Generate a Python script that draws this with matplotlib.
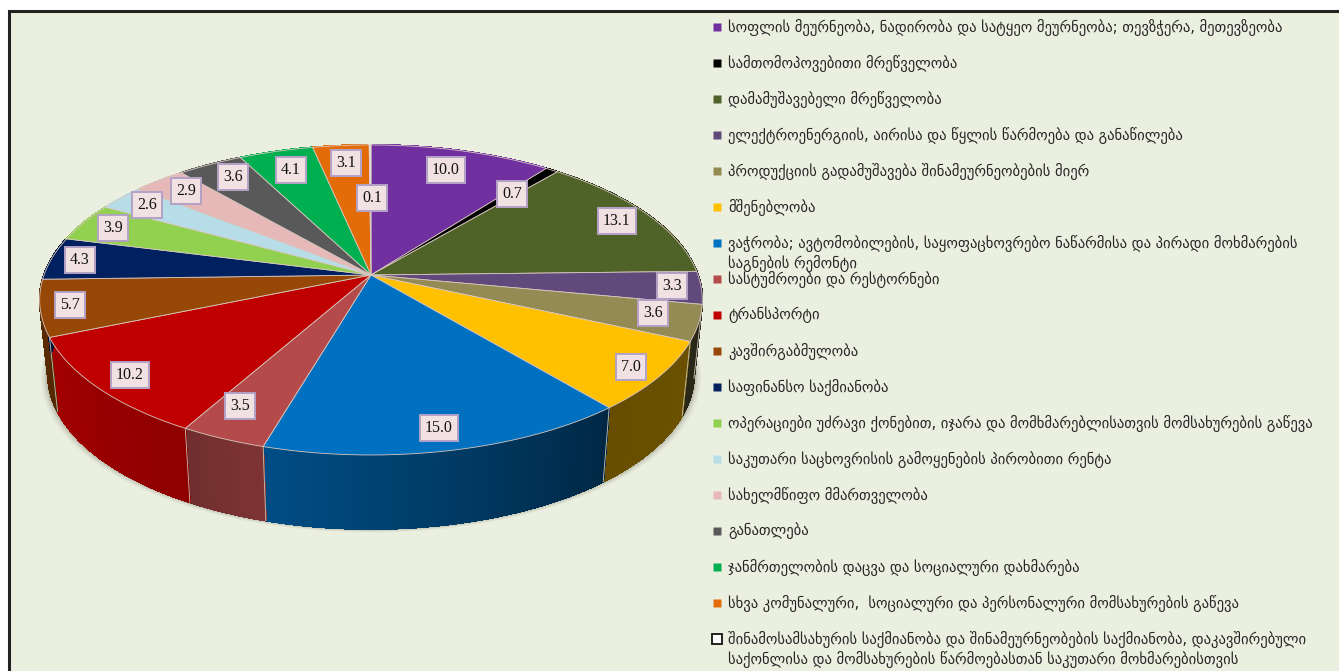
import numpy as np
import matplotlib
matplotlib.use("Agg")
import matplotlib.pyplot as plt
from matplotlib.patches import Polygon, Rectangle

categories = [
    "სოფლის მეურნეობა, ნადირობა და სატყეო მეურნეობა; თევზჭერა, მეთევზეობა",
    "სამთომოპოვებითი მრეწველობა",
    "დამამუშავებელი მრეწველობა",
    "ელექტროენერგიის, აირისა და წყლის წარმოება და განაწილება",
    "პროდუქციის გადამუშავება შინამეურნეობების მიერ",
    "მშენებლობა",
    "ვაჭრობა; ავტომობილების, საყოფაცხოვრებო ნაწარმისა და პირადი მოხმარების\nსაგნების რემონტი",
    "სასტუმროები და რესტორნები",
    "ტრანსპორტი",
    "კავშირგაბმულობა",
    "საფინანსო საქმიანობა",
    "ოპერაციები უძრავი ქონებით, იჯარა და მომხმარებლისათვის მომსახურების გაწევა",
    "საკუთარი საცხოვრისის გამოყენების პირობითი რენტა",
    "სახელმწიფო მმართველობა",
    "განათლება",
    "ჯანმრთელობის დაცვა და სოციალური დახმარება",
    "სხვა კომუნალური,  სოციალური და პერსონალური მომსახურების გაწევა",
    "შინამოსამსახურის საქმიანობა და შინამეურნეობების საქმიანობა, დაკავშირებული\nსაქონლისა და მომსახურების წარმოებასთან საკუთარი მოხმარებისთვის",
]
values = [10.0, 0.7, 13.1, 3.3, 3.6, 7.0, 15.0, 3.5, 10.2, 5.7, 4.3, 3.9, 2.6, 2.9, 3.6, 4.1, 3.1, 0.1]
colors = ["#7030a0", "#000000", "#4f6228", "#604a7b", "#948a54", "#ffc000",
          "#0070c0", "#b54a4a", "#c00000", "#974806", "#002060", "#92d050",
          "#b7dee8", "#e6b9b8", "#595959", "#00b050", "#e36c09", "#f4f4ec"]
# wall brightness at the start and end of each slice
wall_shade = [(1, 1), (1, 1), (0.5, 0.5), (0.4, 0.4), (0.28, 0.28), (0.42, 0.4),
              (0.36, 0.7), (0.7, 0.62), (0.74, 0.85), (0.55, 0.6), (0.5, 0.5), (1, 1),
              (1, 1), (1, 1), (1, 1), (1, 1), (1, 1), (1, 1)]
# label centres, placed by hand as in the original
label_xy = [(446, 170), (512, 194), (617, 221), (672, 286), (653, 313), (631, 367),
            (439, 428), (240, 406), (130, 375), (70, 305), (80, 260), (113, 228),
            (147, 205), (186, 191), (233, 177), (291, 170), (346, 163), (372, 198)]

W, H = 1339, 671
cx, cy = 371, 275
A, B, k = 327, 151, 0.161
depth = 74
BG = "#ebefe0"


def project(theta):
    # clockwise from 12 o'clock on a tilted disc seen in perspective
    u, v = np.sin(theta), np.cos(theta)
    d = 1 + k * v
    return cx + A * u / d, cy - B * v / d


def lower(x, y):
    return cx + (x - cx) * 0.975, y + depth


def shade(col, f):
    return tuple(np.array(matplotlib.colors.to_rgb(col)) * f)


fig = plt.figure(figsize=(W / 100, H / 100), dpi=100, facecolor="white")
ax = fig.add_axes([0, 0, 1, 1])
ax.set_xlim(0, W)
ax.set_ylim(H, 0)
ax.axis("off")

ax.add_patch(Rectangle((9, 11), W, H, facecolor=BG, edgecolor="#222222", lw=2.2, zorder=0))

edges = np.cumsum([0] + values) / sum(values) * 2 * np.pi

# soft shadow under the pie
t_all = np.linspace(0, 2 * np.pi, 240)
xs, ys = lower(*project(t_all))
for grow, alpha in zip([7, 5, 3, 1.5], [0.05, 0.08, 0.12, 0.18]):
    ax.add_patch(Polygon(np.c_[cx + (xs - cx) * (1 + grow / 320), ys + grow * 0.5],
                         facecolor="#4a4a30", edgecolor="none", alpha=alpha, zorder=1))

# side wall, in thin strips so the shading can change along a slice
for i, col in enumerate(colors):
    t = np.linspace(edges[i], edges[i + 1], 40)
    px, py = project(t)
    qx, qy = lower(px, py)
    fs = np.linspace(wall_shade[i][0], wall_shade[i][1], len(t))
    for j in range(len(t) - 1):
        ax.add_patch(Polygon([(px[j], py[j]), (px[j + 1], py[j + 1]),
                              (qx[j + 1], qy[j + 1]), (qx[j], qy[j])],
                             facecolor=shade(col, fs[j]), edgecolor=shade(col, fs[j]),
                             lw=0.8, antialiased=False, zorder=2))
    # light seam at the slice end on the front half
    if np.cos(edges[i + 1]) < -0.1:
        ax.plot([px[-1], qx[-1]], [py[-1], qy[-1]], color="#c9c4b4", lw=0.6, zorder=3)

# top face
for i, col in enumerate(colors):
    t = np.linspace(edges[i], edges[i + 1], 60)
    px, py = project(t)
    pts = np.vstack([[cx, cy], np.c_[px, py]])
    ax.add_patch(Polygon(pts, closed=True, facecolor=col, edgecolor="#d8c8c0",
                         lw=0.6, joinstyle="round", zorder=4))

# value labels
for (lx, ly), v in zip(label_xy, values):
    ax.text(lx, ly, f"{v:.1f}", ha="center", va="center", fontsize=11.5,
            family="Liberation Serif", color="#111111", zorder=6,
            bbox=dict(boxstyle="square,pad=0.32", facecolor="#f1e1e2",
                      edgecolor="#b3a2c6", lw=1.4))

# legend, one row every 36 px
for i, (name, col) in enumerate(zip(categories, colors)):
    y = 27 + 36 * i
    if i == len(categories) - 1:
        ax.plot(717, y, "s", ms=7.5, mfc="white", mec="#111111", mew=1.3, zorder=5)
    else:
        ax.plot(717, y, "s", ms=6.3, color=col, mec="none", zorder=5)
    for n, line in enumerate(name.split("\n")):
        ax.text(728, y + 20 * n, line, ha="left", va="center", fontsize=10.55,
                family="DejaVu Sans", color="#262626", zorder=5)

fig.savefig("out.png", dpi=100, facecolor="white")
